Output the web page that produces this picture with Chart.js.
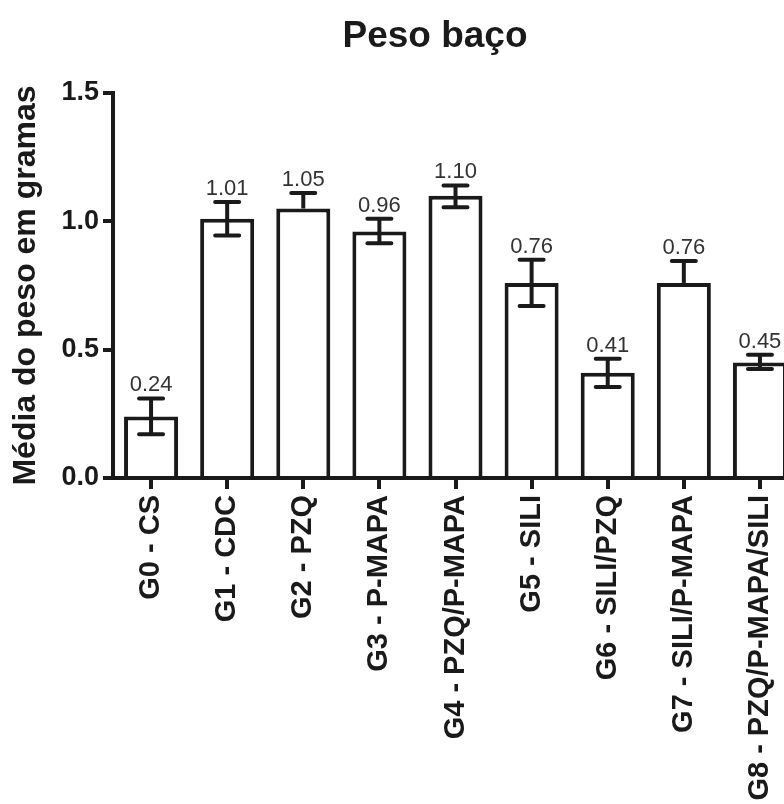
<!DOCTYPE html>
<html>
<head>
<meta charset="utf-8">
<script src="https://cdn.jsdelivr.net/npm/chart.js@4.4.1/dist/chart.umd.min.js"></script>
<style>
  html, body { margin: 0; padding: 0; background: #fff; overflow: hidden; }
  canvas { display: block; }
</style>
</head>
<body>
<canvas id="myChart" width="800" height="804"></canvas>
<script>
  'use strict'

  // Data
  const groups = [
    'G0 - CS',
    'G1 - CDC',
    'G2 - PZQ',
    'G3 - P-MAPA',
    'G4 - PZQ/P-MAPA',
    'G5 - SILI',
    'G6 - SILI/PZQ',
    'G7 - SILI/P-MAPA',
    'G8 - PZQ/P-MAPA/SILI'
  ]
  const means = [0.24, 1.01, 1.05, 0.96, 1.10, 0.76, 0.41, 0.76, 0.45]
  const errUp = [0.07, 0.065, 0.06, 0.05, 0.04, 0.09, 0.055, 0.085, 0.03]
  const errDown = [0.07, 0.065, 0, 0.045, 0.045, 0.09, 0.055, 0, 0.025]
  const yTicks = [0, 0.5, 1.0, 1.5]

  const FONT = "'Liberation Sans', Arial, sans-serif"
  const INK = '#1a1a1a'

  // title drawn by hand so it can sit a bit left of the canvas centre
  const titlePlugin = {
    id: 'plotTitle',
    afterDraw (chart) {
      const { ctx } = chart
      ctx.save()
      ctx.font = 'bold 37px ' + FONT
      ctx.fillStyle = INK
      ctx.textAlign = 'center'
      ctx.textBaseline = 'alphabetic'
      ctx.fillText('Peso baço', 435, 47)
      ctx.restore()
    }
  }

  // error bars + value labels
  const errorBars = {
    id: 'errorBars',
    afterDatasetsDraw (chart) {
      const { ctx } = chart
      const y = chart.scales.y
      const meta = chart.getDatasetMeta(0)
      ctx.save()
      ctx.strokeStyle = INK
      ctx.lineWidth = 4
      meta.data.forEach((bar, i) => {
        const x = bar.x
        const top = y.getPixelForValue(means[i] + errUp[i])
        const bot = y.getPixelForValue(means[i] - errDown[i])
        ctx.lineCap = 'butt'
        ctx.beginPath()
        ctx.moveTo(x, top)
        ctx.lineTo(x, bot)
        ctx.stroke()
        ctx.lineCap = 'round'
        ctx.beginPath()
        ctx.moveTo(x - 12, top)
        ctx.lineTo(x + 12, top)
        if (errDown[i] > 0) {
          ctx.moveTo(x - 12, bot)
          ctx.lineTo(x + 12, bot)
        }
        ctx.stroke()
        ctx.font = '22px ' + FONT
        ctx.fillStyle = '#333'
        ctx.textAlign = 'center'
        ctx.textBaseline = 'alphabetic'
        ctx.fillText(means[i].toFixed(2), x, top - 7)
      })
      ctx.restore()
    }
  }

  const ctx = document.getElementById('myChart')
  // eslint-disable-next-line no-unused-vars
  const myChart = new Chart(ctx, {
    type: 'bar',
    data: {
      labels: groups,
      datasets: [{
        data: means,
        backgroundColor: '#fff',
        borderColor: INK,
        borderWidth: 4,
        categoryPercentage: 1,
        barPercentage: 0.71
      }]
    },
    options: {
      responsive: false,
      animation: false,
      layout: {
        padding: { top: 93, right: 2, left: 0, bottom: 0 }
      },
      plugins: {
        legend: { display: false },
        tooltip: { enabled: false }
      },
      scales: {
        x: {
          grid: {
            offset: false,
            drawOnChartArea: false,
            drawTicks: true,
            tickLength: 11,
            lineWidth: 4,
            color: INK
          },
          border: { color: INK, width: 4 },
          ticks: {
            color: INK,
            font: { family: FONT, size: 29, weight: 'bold' },
            maxRotation: 90,
            minRotation: 90,
            padding: 6,
            autoSkip: false
          },
          afterFit (scale) {
            scale.height = 326
            scale.paddingLeft = 0
            scale.paddingRight = 0
          }
        },
        y: {
          min: 0,
          max: 1.5,
          afterBuildTicks (scale) {
            scale.ticks = yTicks.map(v => ({ value: v }))
          },
          grid: {
            drawOnChartArea: false,
            drawTicks: true,
            tickLength: 10,
            lineWidth: 4,
            color: INK
          },
          border: { color: INK, width: 4 },
          ticks: {
            color: INK,
            font: { family: FONT, size: 27, weight: 'bold' },
            padding: 4,
            callback: v => v.toFixed(1)
          },
          title: {
            display: true,
            text: 'Média do peso em gramas',
            color: INK,
            font: { family: FONT, size: 32, weight: 'bold' },
            padding: { top: 7, bottom: 0 }
          },
          afterFit (scale) {
            scale.width = 113
          }
        }
      }
    },
    plugins: [errorBars, titlePlugin]
  })
</script>
</body>
</html>
